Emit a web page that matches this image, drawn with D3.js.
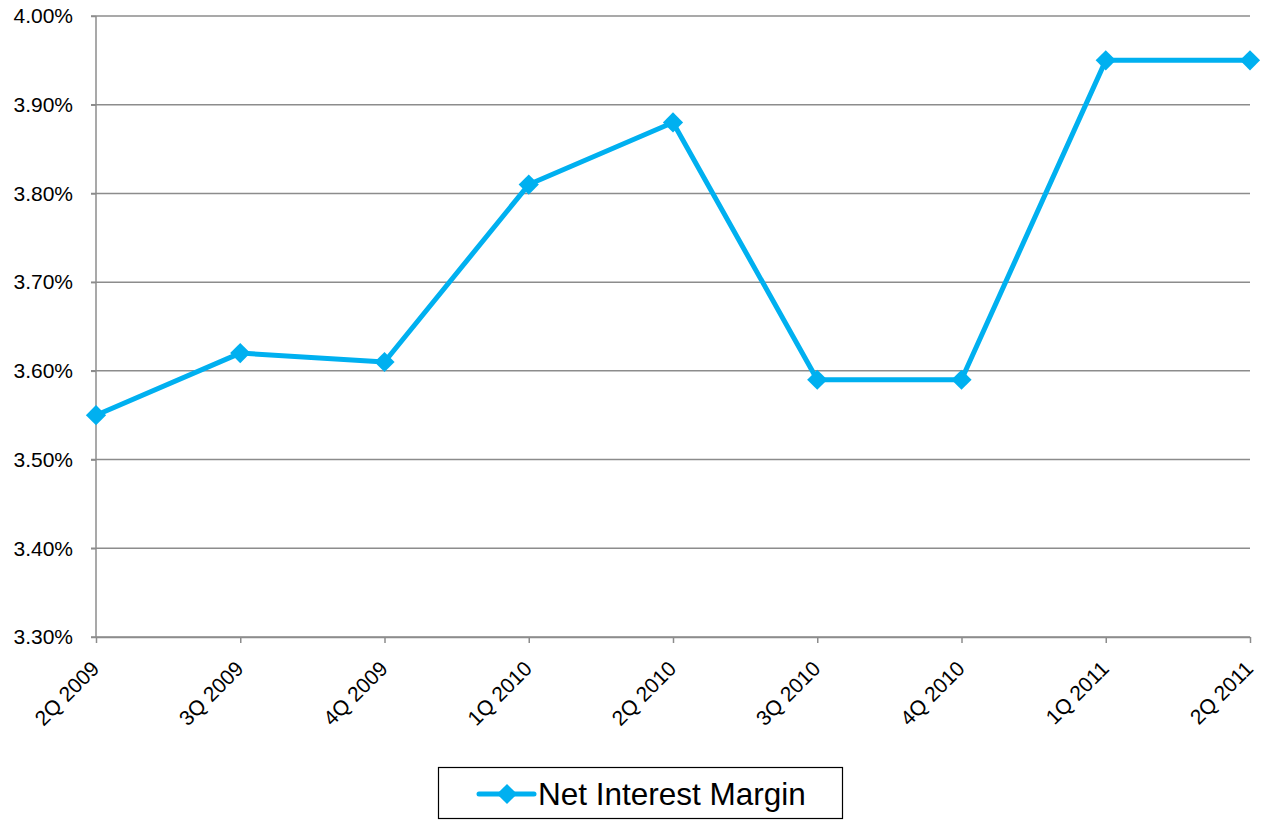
<!DOCTYPE html>
<html>
<head>
<meta charset="utf-8">
<script src="https://cdn.jsdelivr.net/npm/d3@7"></script>
<style>
  body { margin: 0; background: #fff; }
  svg { display: block; font-family: "Liberation Sans", Arial, sans-serif; }
</style>
</head>
<body>
<svg id="chart"></svg>
<script>
var quarters = ["2Q 2009", "3Q 2009", "4Q 2009", "1Q 2010", "2Q 2010", "3Q 2010", "4Q 2010", "1Q 2011", "2Q 2011"];
var margins = [3.55, 3.62, 3.61, 3.81, 3.88, 3.59, 3.59, 3.95, 3.95];
var yTicks = [3.30, 3.40, 3.50, 3.60, 3.70, 3.80, 3.90, 4.00];
var seriesName = "Net Interest Margin";

var pctFormatter = d3.format(".2f");
var blue = "#00b0f0";
var gridColor = "#8c8c8c";

function renderChart() {
  let width = 1264;
  let height = 822;
  let margin = { left: 96, right: 14, top: 16, bottom: 185 };
  let svg = d3.select("#chart").attr("width", width).attr("height", height);

  let xScale = d3.scalePoint()
    .domain(quarters)
    .range([margin.left, width - margin.right])

  let yScale = d3.scaleLinear()
    .domain([3.30, 4.00])
    .range([height - margin.bottom, margin.top])

  // gridlines
  svg.append("g")
    .selectAll("line")
    .data(yTicks)
    .join("line")
    .attr("x1", margin.left - 5)
    .attr("x2", width - margin.right)
    .attr("y1", d => yScale(d))
    .attr("y2", d => yScale(d))
    .attr("stroke", gridColor)
    .attr("stroke-width", 1.5)

  let yAxis = d3.axisLeft(yScale)
    .tickValues(yTicks)
    .tickSize(5)
    .tickPadding(18)
    .tickFormat(d => pctFormatter(d) + "%")

  svg.append("g")
    .attr("transform", `translate(${margin.left}, 0)`)
    .call(yAxis)
    .attr("font-family", null)
    .attr("font-size", 21)
    .call(g => g.selectAll("line, path").attr("stroke", gridColor).attr("stroke-width", 1.5))
    .call(g => g.select(".domain").attr("d", `M0,${yScale(4.00)}V${yScale(3.30)}`))
    .selectAll("text")
    .attr("fill", "#000")

  let xAxis = d3.axisBottom(xScale).tickSize(6).tickSizeOuter(0);

  svg.append("g")
    .attr("transform", `translate(0, ${yScale(3.30)})`)
    .call(xAxis)
    .attr("font-family", null)
    .attr("font-size", 21)
    .call(g => g.selectAll("line, path").attr("stroke", gridColor).attr("stroke-width", 1.5))
    .selectAll("text")
    .attr("fill", "#000")
    .style("text-anchor", "end")
    .attr("x", 0)
    .attr("y", 0)
    .attr("dy", "0")
    .attr("transform", "translate(4, 33) rotate(-45)")

  let line = d3.line()
    .x((d, i) => xScale(quarters[i]))
    .y(d => yScale(d))

  svg.append("path")
    .datum(margins)
    .attr("fill", "none")
    .attr("stroke", blue)
    .attr("stroke-width", 5)
    .attr("stroke-linejoin", "round")
    .attr("d", line)

  let diamond = d3.symbol().type(d3.symbolDiamond2).size(260);

  svg.append("g")
    .selectAll("path")
    .data(margins)
    .join("path")
    .attr("transform", (d, i) => `translate(${xScale(quarters[i])}, ${yScale(d)})`)
    .attr("d", diamond)
    .attr("fill", blue)

  // legend
  let legend = svg.append("g").attr("transform", "translate(438, 767)");
  legend.append("rect")
    .attr("x", 0.5).attr("y", 0.5)
    .attr("width", 404).attr("height", 51)
    .attr("fill", "#fff")
    .attr("stroke", "#000")
    .attr("stroke-width", 1.2)
  legend.append("line")
    .attr("x1", 41).attr("x2", 96)
    .attr("y1", 27).attr("y2", 27)
    .attr("stroke", blue)
    .attr("stroke-width", 5)
    .attr("stroke-linecap", "round")
  legend.append("path")
    .attr("transform", "translate(69, 27)")
    .attr("d", diamond)
    .attr("fill", blue)
  legend.append("text")
    .attr("x", 100).attr("y", 38)
    .attr("font-size", 31.5)
    .attr("fill", "#000")
    .text(seriesName)
}

renderChart();
</script>
</body>
</html>
